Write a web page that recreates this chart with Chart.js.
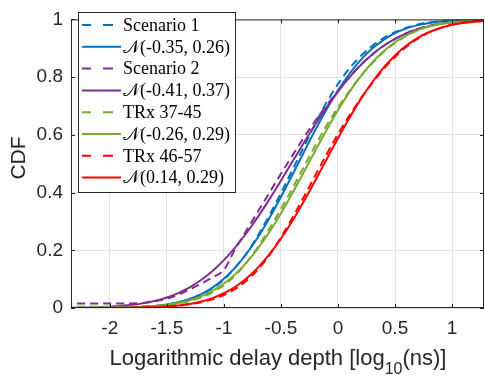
<!DOCTYPE html>
<html>
<head>
<meta charset="utf-8">
<script src="https://cdn.jsdelivr.net/npm/chart.js@4"></script>
<style>
  html, body { margin: 0; padding: 0; background: #fff; }
  #wrap { width: 485px; height: 382px; }
</style>
</head>
<body>
<div id="wrap"><canvas id="cdfChart"></canvas></div>
<script>
// x positions (log10 ns) where the curves were read
const xs = [-2.4, -2.2, -2.0, -1.8, -1.7, -1.6, -1.5, -1.4, -1.3, -1.2, -1.1, -1.0, -0.9, -0.8, -0.7, -0.6,
            -0.5, -0.4, -0.3, -0.2, -0.1, 0, 0.1, 0.2, 0.3, 0.4, 0.5, 0.6, 0.7, 0.8, 1.0, 1.3];

const scen1Emp = [0, 0, 0.001, 0.002, 0.004, 0.007, 0.012, 0.019, 0.03, 0.046, 0.068, 0.098, 0.14, 0.19, 0.252, 0.322,
                  0.398, 0.478, 0.558, 0.638, 0.712, 0.776, 0.83, 0.873, 0.908, 0.935, 0.956, 0.971, 0.982, 0.989, 0.997, 1.0];
const scen1Fit = [0, 0.0001, 0.0006, 0.0022, 0.0041, 0.0071, 0.0121, 0.0198, 0.0312, 0.0478, 0.0707, 0.1012, 0.1405, 0.1888, 0.2463, 0.3121,
                  0.3844, 0.461, 0.539, 0.6156, 0.6879, 0.7537, 0.8112, 0.8595, 0.8988, 0.9293, 0.9522, 0.9688, 0.9802, 0.9879, 0.9959, 0.9994];
const scen2Emp = [0.016, 0.016, 0.016, 0.016, 0.018, 0.024, 0.032, 0.046, 0.064, 0.084, 0.106, 0.132, 0.205, 0.27, 0.335, 0.40,
                  0.465, 0.528, 0.59, 0.648, 0.702, 0.752, 0.80, 0.843, 0.878, 0.908, 0.932, 0.952, 0.967, 0.978, 0.991, 1.0];
const scen2Fit = [0.0005, 0.0016, 0.0045, 0.0111, 0.0169, 0.0252, 0.0365, 0.0518, 0.0716, 0.0969, 0.1282, 0.166, 0.2101, 0.2607, 0.3167, 0.3773,
                  0.4412, 0.5066, 0.5718, 0.635, 0.6948, 0.7499, 0.7992, 0.8421, 0.8786, 0.9086, 0.9328, 0.9517, 0.9661, 0.9767, 0.9898, 0.9975];
const trx37Emp = [0.004, 0.004, 0.004, 0.005, 0.006, 0.008, 0.011, 0.016, 0.024, 0.036, 0.054, 0.079, 0.113, 0.158, 0.212, 0.275,
                  0.343, 0.414, 0.488, 0.562, 0.632, 0.695, 0.752, 0.803, 0.848, 0.887, 0.918, 0.943, 0.962, 0.976, 0.991, 1.0];
const trx37Fit = [0, 0.0002, 0.0006, 0.0021, 0.0037, 0.0064, 0.0106, 0.0171, 0.0267, 0.0404, 0.0594, 0.0847, 0.1174, 0.158, 0.207, 0.264,
                  0.3278, 0.3974, 0.4704, 0.5443, 0.6168, 0.6854, 0.7482, 0.8035, 0.8508, 0.8899, 0.9209, 0.9449, 0.9627, 0.9755, 0.9904, 0.9981];
const trx46Emp = [0, 0, 0, 0.001, 0.002, 0.003, 0.005, 0.008, 0.013, 0.02, 0.03, 0.045, 0.066, 0.095, 0.134, 0.184,
                  0.245, 0.312, 0.384, 0.458, 0.532, 0.602, 0.667, 0.726, 0.779, 0.828, 0.87, 0.905, 0.933, 0.955, 0.982, 1.0];
const trx46Fit = [0, 0.0001, 0.0002, 0.0009, 0.0017, 0.003, 0.0052, 0.0087, 0.0142, 0.0224, 0.0344, 0.0511, 0.0737, 0.1033, 0.1407, 0.1864,
                  0.2401, 0.3015, 0.3692, 0.4409, 0.5148, 0.5882, 0.6587, 0.7238, 0.7823, 0.833, 0.8752, 0.9094, 0.9361, 0.9563, 0.9812, 0.9958];

const seriesLabels = ['Scenario 1', '𝒩(-0.35, 0.26)', 'Scenario 2', '𝒩(-0.41, 0.37)',
                      'TRx 37-45', '𝒩(-0.26, 0.29)', 'TRx 46-57', '𝒩(0.14, 0.29)'];
const seriesValues = [scen1Emp, scen1Fit, scen2Emp, scen2Fit, trx37Emp, trx37Fit, trx46Emp, trx46Fit];
const seriesColors = ['#0072BD', '#0072BD', '#7E2F8E', '#7E2F8E', '#77AC30', '#77AC30', '#FF0000', '#FF0000'];

const xTicks = [-2, -1.5, -1, -0.5, 0, 0.5, 1];
const yTicks = [0, 0.2, 0.4, 0.6, 0.8, 1];

const AXIS = '#262626';
const SANS = '"Liberation Sans", Arial, sans-serif';
const SERIF = '"Liberation Serif", "Times New Roman", serif';

const datasets = seriesValues.map((vals, i) => ({
    label: seriesLabels[i],
    data: vals.map((y, k) => ({ x: xs[k], y: y })),
    borderColor: seriesColors[i],
    borderWidth: 2,
    borderDash: i % 2 === 0 ? [8, 5] : [],
    pointRadius: 0,
    fill: false,
    cubicInterpolationMode: 'monotone',
    order: 8 - i
}));

// box, inward ticks, legend and axis titles
const decor = {
    id: 'decor',
    afterDatasetsDraw(chart) {
        const ctx = chart.ctx;
        const a = chart.chartArea;
        const sx = chart.scales.x, sy = chart.scales.y;
        ctx.save();
        ctx.strokeStyle = AXIS;
        ctx.lineWidth = 1;
        ctx.beginPath();
        xTicks.forEach(v => {
            const px = Math.round(sx.getPixelForValue(v)) + 0.5;
            ctx.moveTo(px, a.bottom); ctx.lineTo(px, a.bottom - 4);
            ctx.moveTo(px, a.top); ctx.lineTo(px, a.top + 4);
        });
        yTicks.forEach(v => {
            const py = Math.round(sy.getPixelForValue(v)) + 0.5;
            ctx.moveTo(a.left, py); ctx.lineTo(a.left + 4, py);
            ctx.moveTo(a.right, py); ctx.lineTo(a.right - 4, py);
        });
        ctx.stroke();
        ctx.strokeRect(a.left + 0.5, a.top + 0.5, a.right - a.left - 1, a.bottom - a.top - 1);

        // legend
        const lx = 78, ly = 12, lw = 157, lh = 180, rowH = 21.8;
        ctx.fillStyle = '#fff';
        ctx.fillRect(lx, ly, lw, lh);
        ctx.strokeStyle = AXIS;
        ctx.strokeRect(lx + 0.5, ly + 0.5, lw, lh);
        ctx.font = '18px ' + SERIF;
        ctx.textBaseline = 'middle';
        seriesLabels.forEach((lab, i) => {
            const y = ly + 13 + i * rowH;
            ctx.strokeStyle = seriesColors[i];
            ctx.lineWidth = 2;
            ctx.beginPath();
            if (i % 2 === 0) {
                ctx.moveTo(82, y); ctx.lineTo(91, y);
                ctx.moveTo(103, y); ctx.lineTo(113, y);
            } else {
                ctx.moveTo(82, y); ctx.lineTo(121, y);
            }
            ctx.stroke();
            ctx.fillStyle = '#000';
            ctx.fillText(lab, 123, y + 1);
        });
        ctx.restore();
    },
    afterDraw(chart) {
        const ctx = chart.ctx;
        ctx.save();
        ctx.fillStyle = AXIS;
        ctx.textBaseline = 'alphabetic';
        // x title with subscript
        const p1 = 'Logarithmic delay depth [log', sub = '10', p2 = '(ns)]';
        ctx.font = '22px ' + SANS;
        const w1 = ctx.measureText(p1).width, w2 = ctx.measureText(p2).width;
        ctx.font = '16px ' + SANS;
        const ws = ctx.measureText(sub).width;
        let x = 278 - (w1 + ws + w2) / 2;
        ctx.font = '22px ' + SANS;
        ctx.fillText(p1, x, 365);
        x += w1;
        ctx.font = '16px ' + SANS;
        ctx.fillText(sub, x, 374);
        x += ws;
        ctx.font = '22px ' + SANS;
        ctx.fillText(p2, x, 365);
        // y title
        ctx.translate(25, 158);
        ctx.rotate(-Math.PI / 2);
        ctx.textAlign = 'center';
        ctx.font = '21px ' + SANS;
        ctx.fillText('CDF', 0, 0);
        ctx.restore();
    }
};

const fmt = v => String(Math.round(v * 10) / 10);

new Chart(document.getElementById('cdfChart'), {
    type: 'line',
    data: { datasets: datasets },
    options: {
        responsive: true,
        maintainAspectRatio: false,
        animation: false,
        devicePixelRatio: 1,
        layout: { padding: { top: 10, right: 1, left: 0, bottom: 0 } },
        plugins: { legend: { display: false }, tooltip: { enabled: false } },
        scales: {
            x: {
                type: 'linear',
                min: -2.34,
                max: 1.28,
                afterBuildTicks: s => { s.ticks = xTicks.map(v => ({ value: v })); },
                afterFit: s => { s.height = 74; },
                grid: { color: '#e3e3e3', drawTicks: false },
                border: { display: false },
                ticks: { color: AXIS, font: { family: SANS, size: 19 }, padding: 9, maxRotation: 0, callback: fmt }
            },
            y: {
                min: 0,
                max: 1,
                afterBuildTicks: s => { s.ticks = yTicks.map(v => ({ value: v })); },
                afterFit: s => { s.width = 71; },
                grid: { color: '#e3e3e3', drawTicks: false },
                border: { display: false },
                ticks: { color: AXIS, font: { family: SANS, size: 19 }, padding: 8, callback: fmt }
            }
        }
    },
    plugins: [decor]
});
</script>
</body>
</html>
